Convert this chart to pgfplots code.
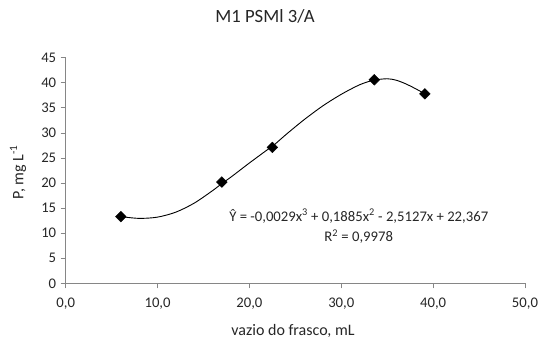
\documentclass[border=0pt]{standalone}
\usepackage{fontspec}
\setmainfont{Carlito}
\usepackage{pgfplots}
\pgfplotsset{compat=1.18}
\definecolor{axgray}{HTML}{868686}
\definecolor{txt}{HTML}{262626}
\begin{document}
\begin{tikzpicture}[x=1pt,y=1pt]
\path[use as bounding box] (0,0) rectangle (542,341);
\begin{axis}[
  at={(65.7pt,57.7pt)}, anchor=south west,
  scale only axis, width=459.3pt, height=225.6pt,
  xmin=0, xmax=50, ymin=0, ymax=45,
  axis x line*=bottom, axis y line*=left,
  xtick={0,10,...,50}, ytick={0,5,...,45},
  tick align=outside, major tick length=5pt,
  tick style={axgray, line width=0.8pt},
  axis line style={axgray, line width=0.8pt},
  /pgf/number format/assume math mode=true,
  ticklabel style={font=\fontsize{14.7}{16}\selectfont, text=txt},
  x tick label style={yshift=-6pt, /pgf/number format/.cd, fixed, fixed zerofill, precision=1, use comma},
  y tick label style={xshift=-1pt, /pgf/number format/.cd, fixed, precision=0},
  clip=false,
]
\addplot[black, line width=0.9pt, smooth, no marks] coordinates {
(6,13.3) (8,12.95) (10,13.2) (12,14.2) (14,16.0) (16,18.5) (17,19.9) (18,21.2)
(20,24.0) (22,26.7) (22.5,27.3) (24,29.7) (26,32.7) (28,35.4) (30,37.7)
(32,39.6) (33.5,40.5) (35,40.8) (36,40.5) (37,39.8) (38,38.9) (39,37.9)
};
\addplot[only marks, mark=square*, mark size=3.8pt, mark options={rotate=45, fill=black, draw=black}] coordinates {
(6,13.3) (17,20.2) (22.5,27.1) (33.6,40.6) (39.1,37.8)
};
\node[font=\fontsize{14.7}{16}\selectfont, text=txt] at (axis cs:31.9,13.4) {Ŷ = -0,0029x\textsuperscript{3} + 0,1885x\textsuperscript{2} - 2,5127x + 22,367};
\node[font=\fontsize{14.7}{16}\selectfont, text=txt] at (axis cs:31.9,9.3) {R\textsuperscript{2} = 0,9978};
\end{axis}
\node[font=\fontsize{18.7}{20}\selectfont, text=txt] at (265,325) {M1 PSMl 3/A};
\node[font=\fontsize{16}{18}\selectfont, text=txt, rotate=90] at (18,169) {P, mg L\textsuperscript{-1}};
\node[font=\fontsize{16}{18}\selectfont, text=txt] at (293,10) {vazio do frasco, mL};
\end{tikzpicture}
\end{document}
